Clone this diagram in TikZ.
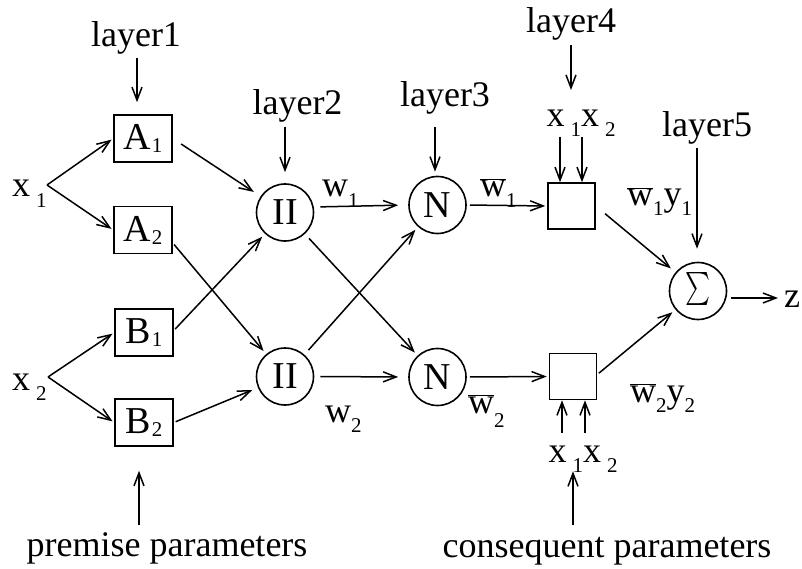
\documentclass[tikz,border=0pt]{standalone}
\usepackage{fontspec}
\usepackage{graphicx}
\setmainfont{Liberation Serif}
\usetikzlibrary{arrows.meta,calc}
\tikzset{
  lbl/.style={font=\fontsize{36}{40}\selectfont, inner sep=0pt},
  fbox/.style={draw, line width=1.6pt, minimum width=58pt, minimum height=47pt, inner sep=0pt, font=\fontsize{38}{40}\selectfont},
  pbox/.style={draw, line width=1.6pt, minimum width=47pt, minimum height=46pt, inner sep=0pt},
  rnode/.style={draw, circle, line width=1.6pt, minimum size=57pt, inner sep=0pt, font=\fontsize{38}{40}\selectfont},
  conn/.style={line width=1.5pt, -{Straight Barb[length=13pt,width=10pt,line width=1.5pt]}},
}
\newcommand{\wbar}{\ensuremath{\overline{\mbox{w}}}}
\newcommand{\sub}[2][10pt]{\raisebox{-#1}{\fontsize{21}{24}\selectfont #2}}
\newcommand{\bsub}[1]{\kern1pt\raisebox{-3pt}{\fontsize{21}{24}\selectfont #1}}
\begin{document}
\begin{tikzpicture}[x=1pt,y=-1pt]
\useasboundingbox (0,0) rectangle (802,569);
% layer 1
\node[fbox] (A1) at (143,138.5) {A\bsub{1}};
\node[fbox] (A2) at (143,230) {A\bsub{2}};
\node[fbox] (B1) at (144,332.5) {B\bsub{1}};
\node[fbox] (B2) at (144,422.5) {B\bsub{2}};
% layer 2,3
\node[rnode] (P1) at (285,212.5) {II};
\node[rnode] (P2) at (285,376.5) {II};
\node[rnode] (N1) at (437.5,205) {N};
\node[rnode] (N2) at (437.5,377) {N};
% layer 4
\node[pbox] (C1) at (571.5,206) {};
\node[pbox] (C2) at (573,376.5) {};
% layer 5
\node[rnode] (S) at (698,291) {\resizebox{25pt}{37pt}{$\sum$}};
\node[lbl, anchor=base west] (z) at (784,307) {z};
% inputs
\node[lbl, anchor=base west] (x1) at (12,197) {x\,\sub{1}};
\node[lbl, anchor=base west] (x2) at (12,390) {x\,\sub{2}};
\coordinate (j1) at (47,185);
\coordinate (j2) at (48,377);
% layer labels
\node[lbl, anchor=base] (L1) at (136,47) {layer1};
\node[lbl, anchor=base] (L2) at (297.5,115) {layer2};
\node[lbl, anchor=base] (L3) at (445,107) {layer3};
\node[lbl, anchor=base] (L4) at (571,33) {layer4};
\node[lbl, anchor=base] (L5) at (707,137) {layer5};
\node[lbl, anchor=base] (T4) at (581,127) {x\,\sub{1}x\,\sub{2}};
\node[lbl, anchor=base] (T5) at (583,462) {x\,\sub{1}x\,\sub{2}};
\node[lbl, anchor=base] (PP) at (167,556) {premise parameters};
\node[lbl, anchor=base] (CP) at (607,557) {consequent parameters};
% edge labels
\node[lbl, anchor=base west] (w1) at (322,197) {w\sub{1}};
\node[lbl, anchor=base west] (w2) at (325,422) {w\sub{2}};
\node[lbl, anchor=base west] (wb1) at (480,197) {\wbar\sub{1}};
\node[lbl, anchor=base west] (wb2) at (468,413) {\wbar\sub[14pt]{2}};
\node[lbl, anchor=base west] (wy1) at (627,206) {\wbar\sub{1}y\sub{1}};
\node[lbl, anchor=base west] (wy2) at (630,402) {\wbar\sub{2}y\sub{2}};
% input connectors
\draw[conn, shorten >=2pt] (j1) -- (A1.west);
\draw[conn, shorten >=2pt] (j1) -- (A2.west);
\draw[conn, shorten >=2pt] (j2) -- (B1.west);
\draw[conn, shorten >=2pt] (j2) -- (B2.west);
% layer label arrows
\draw[conn] ([xshift=1pt,yshift=-11pt]L1.base) -- ([xshift=-6pt,yshift=12pt]A1.north);
\draw[conn] ([xshift=-12.5pt,yshift=-12pt]L2.base) -- ([yshift=11pt]P1.north);
\draw[conn] ([xshift=-10pt,yshift=-20pt]L3.base) -- ([xshift=-2.5pt,yshift=4pt]N1.north);
\draw[conn] ([yshift=-12pt]L4.base) -- ([xshift=-10pt,yshift=37pt]T4.base);
\draw[conn] ([xshift=-21pt,yshift=-10pt]T4.base) -- ([xshift=-11.5pt]C1.north);
\draw[conn] ([xshift=1pt,yshift=-10pt]T4.base) -- ([xshift=10.5pt]C1.north);
\draw[conn] ([xshift=-10pt,yshift=-11pt]L5.base) -- ([xshift=-1pt,yshift=13pt]S.north);
\draw[conn] ([xshift=-21pt,yshift=29pt]T5.base) -- ([xshift=-11pt]C2.south);
\draw[conn] ([xshift=2pt,yshift=29pt]T5.base) -- ([xshift=12pt]C2.south);
\draw[conn] ([xshift=-28pt,yshift=31pt]PP.base) -- ([xshift=-5pt,yshift=-24pt]B2.south);
\draw[conn] ([xshift=-34pt,yshift=32pt]CP.base) -- ([yshift=-71pt]C2.south);
% layer1 -> layer2
\draw[conn, shorten <=10pt, shorten >=8pt] (A1.east) -- (P1);
\draw[conn, shorten <=2pt, shorten >=4pt] ([yshift=-13pt]A2.east) -- (P2);
\draw[conn, shorten <=2pt, shorten >=4pt] ([yshift=2pt]B1.east) -- (P1);
\draw[conn, shorten <=2pt, shorten >=6pt] (B2.east) -- (P2);
% layer2 -> layer3
\draw[conn, shorten <=6pt, shorten >=10pt] ([yshift=5.5pt]P1.east) -- (N1.west);
\draw[conn, shorten <=6pt, shorten >=10pt] (P2.east) -- (N2.west);
\draw[conn, shorten <=6pt, shorten >=4pt] (P1) -- (N2);
\draw[conn, shorten <=6pt, shorten >=4pt] (P2) -- (N1);
% layer3 -> layer4
\draw[conn, shorten <=3pt, shorten >=2pt] (N1.east) -- (C1.west);
\draw[conn, shorten <=3pt, shorten >=2pt] (N2.east) -- (C2.west);
% layer4 -> layer5
\draw[conn, shorten <=12pt, shorten >=6pt] (C1.east) -- (S);
\draw[conn, shorten <=2pt, shorten >=4pt] ([yshift=2pt]C2.east) -- (S);
\draw[conn, shorten <=4pt] ([yshift=-7pt]S.east) -- ([xshift=-6pt,yshift=9pt]z.base west);
\end{tikzpicture}
\end{document}
